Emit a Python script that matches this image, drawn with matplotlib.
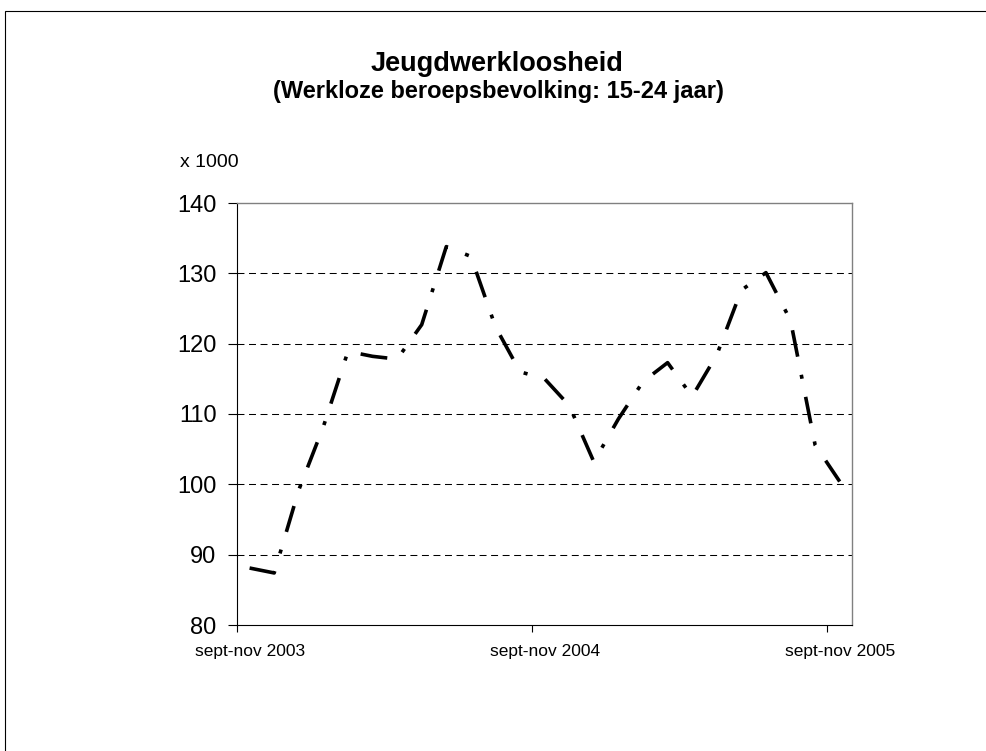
import numpy as np
import matplotlib
matplotlib.use("Agg")
import matplotlib.pyplot as plt
from matplotlib.patches import Rectangle

# driemaandsperiodes (alleen elke 12e krijgt een label)
periodes = [
    "sept-nov 2003", "okt-dec 2003", "nov-jan 2004", "dec-feb 2004",
    "jan-mrt 2004", "feb-apr 2004", "mrt-mei 2004", "apr-jun 2004",
    "mei-jul 2004", "jun-aug 2004", "jul-sept 2004", "aug-okt 2004",
    "sept-nov 2004", "okt-dec 2004", "nov-jan 2005", "dec-feb 2005",
    "jan-mrt 2005", "feb-apr 2005", "mrt-mei 2005", "apr-jun 2005",
    "mei-jul 2005", "jun-aug 2005", "jul-sept 2005", "aug-okt 2005",
    "sept-nov 2005",
]

# werkloze jongeren 15-24 jaar (x 1000)
werkloos = [88.1, 87.4, 99.2, 108.2, 118.9, 118.2, 117.8, 122.7, 133.8, 132.4,
            122.4, 116.0, 115.0, 111.2, 103.2, 109.3, 114.6, 117.3, 112.5, 118.4,
            127.6, 130.1, 123.3, 105.6, 100.4]

y_ticks = [80, 90, 100, 110, 120, 130, 140]
label_idx = [0, 12, 24]

plt.rcParams['font.family'] = ['Liberation Sans', 'DejaVu Sans']
plt.rcParams['lines.scale_dashes'] = False

W, H = 987, 751
fig = plt.figure(figsize=(W / 100, H / 100), dpi=100)
ax = fig.add_axes([237.3 / W, 1 - 625 / H, (852 - 237.3) / W, (625 - 203) / H])

x = np.arange(len(werkloos))
ax.plot(x, werkloos, color='black', lw=2.6,
        linestyle=(0, (19.4, 13.3, 2.9, 13.3)), zorder=3)

# stippellijnen als raster
for v in y_ticks[1:-1]:
    ax.axhline(v, color='black', lw=0.75, linestyle=(0, (5, 3.3)), zorder=1)

ax.set_xlim(-0.5, len(werkloos) - 0.5)
ax.set_ylim(y_ticks[0], y_ticks[-1])

ax.set_yticks(y_ticks)
ax.tick_params(axis='y', length=6.5, width=0.8, pad=8.5, labelsize=17)

ax.set_xticks(label_idx)
ax.set_xticklabels([periodes[i] for i in label_idx])
ax.set_xticks([i - 0.5 for i in label_idx], minor=True)
ax.tick_params(axis='x', which='major', length=0, pad=13.5, labelsize=12.5)
ax.tick_params(axis='x', which='minor', length=5, width=0.8, direction='out')

for side in ['left', 'bottom']:
    ax.spines[side].set_color('black')
    ax.spines[side].set_linewidth(0.8)
for side in ['top', 'right']:
    ax.spines[side].set_color('#808080')
    ax.spines[side].set_linewidth(1.0)

fig.text(497 / W, 1 - 70.7 / H, "Jeugdwerkloosheid", ha='center', va='baseline',
         fontsize=19.5, fontweight='bold')
fig.text(498 / W, 1 - 97.7 / H, "(Werkloze beroepsbevolking: 15-24 jaar)",
         ha='center', va='baseline', fontsize=17, fontweight='bold')
fig.text(180 / W, 1 - 167.3 / H, "x 1000", ha='left', va='baseline', fontsize=14)

# rand om de hele grafiek (rechts en onder buiten beeld)
fig.add_artist(Rectangle((5 / W, -0.05), 1.2, 1 - 11 / H + 0.05,
                         transform=fig.transFigure, fill=False,
                         edgecolor='black', lw=0.8))

fig.savefig('out.png', dpi=100)
